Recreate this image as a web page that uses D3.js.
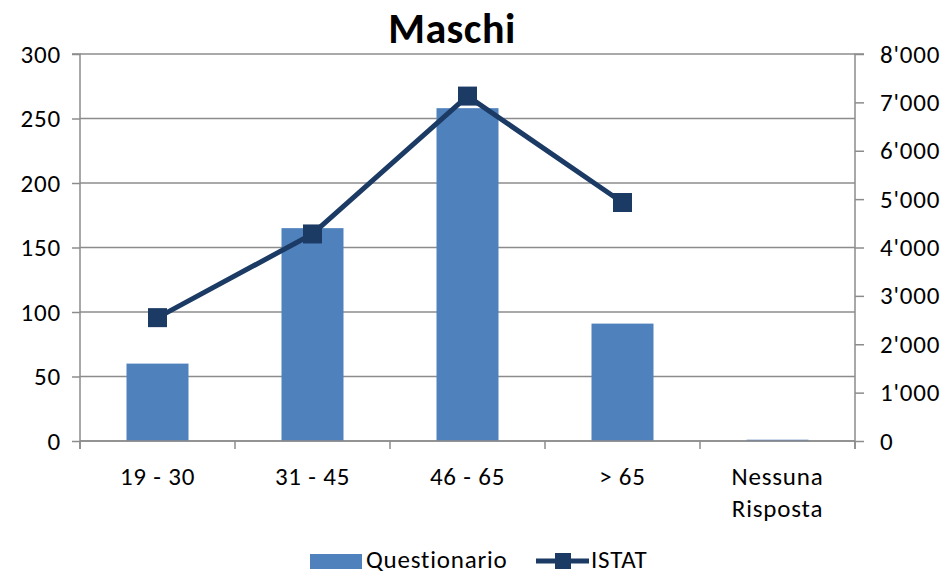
<!DOCTYPE html>
<html>
<head>
<meta charset="utf-8">
<script src="https://cdn.jsdelivr.net/npm/d3@7"></script>
<style>
  body { margin: 0; background: #fff; }
  text { font-family: Carlito, "Open Sans", sans-serif; fill: #000; letter-spacing: 0.8px; }
</style>
</head>
<body>
<svg id="chart" width="943" height="574"></svg>
<script>
// data
const categories = ["19 - 30", "31 - 45", "46 - 65", "> 65", "Nessuna Risposta"];
const questionario = [60, 165, 258, 91, 1];
const istat = [2550, 4280, 7130, 4930, null];
const leftTicks = [0, 50, 100, 150, 200, 250, 300];
const rightTicks = [0, 1000, 2000, 3000, 4000, 5000, 6000, 7000, 8000];

const barColor = "#4F81BD";
const lineColor = "#1B3A64";
const gridColor = "#8C8C8C";
const fs = "25px";

const svg = d3.select("#chart");
const margin = { left: 80, right: 88, top: 54, bottom: 133 };
const W = 943, H = 574;
const x0 = margin.left, x1 = W - margin.right;
const y0 = H - margin.bottom, y1 = margin.top;

const xBand = d3.scaleBand().domain(categories).range([x0, x1]);
const yL = d3.scaleLinear().domain([0, 300]).range([y0, y1]);
const yR = d3.scaleLinear().domain([0, 8000]).range([y0, y1]);

// gridlines
svg.append("g").selectAll("line").data(leftTicks).enter().append("line")
  .attr("x1", x0).attr("x2", x1)
  .attr("y1", d => yL(d)).attr("y2", d => yL(d))
  .attr("stroke", gridColor).attr("stroke-width", 1.5);

// bars
svg.append("g").selectAll("rect").data(questionario).enter().append("rect")
  .attr("x", (d, i) => xBand(categories[i]) + xBand.bandwidth() / 2 - 31)
  .attr("width", 62)
  .attr("y", d => yL(d))
  .attr("height", d => y0 - yL(d))
  .attr("fill", barColor);

// left axis
const left = svg.append("g").attr("transform", `translate(${x0},0)`)
  .call(d3.axisLeft(yL).tickValues(leftTicks).tickSize(8).tickPadding(11));
// right axis
const right = svg.append("g").attr("transform", `translate(${x1},0)`)
  .call(d3.axisRight(yR).tickValues(rightTicks).tickSize(9).tickPadding(16)
    .tickFormat(d => d3.format(",")(d).replace(/,/g, "'")));
[left, right].forEach(g => {
  g.select(".domain").attr("stroke", gridColor).attr("stroke-width", 1.5);
  g.selectAll(".tick line").attr("stroke", gridColor).attr("stroke-width", 1.5);
  g.selectAll(".tick text").style("font-size", fs).attr("fill", "#000");
});
left.select(".domain").attr("d", `M-8,${y1}H0V${y0 + 8}`);
right.select(".domain").attr("d", `M9,${y1}H0V${y0 + 8}`);

// x axis
const xAxis = svg.append("g").attr("transform", `translate(0,${y0})`);
xAxis.append("line").attr("x1", x0).attr("x2", x1).attr("y1", 0).attr("y2", 0)
  .attr("stroke", gridColor).attr("stroke-width", 1.5);
xAxis.selectAll(".xt").data(d3.range(categories.length + 1)).enter().append("line")
  .attr("x1", i => x0 + i * xBand.bandwidth()).attr("x2", i => x0 + i * xBand.bandwidth())
  .attr("y1", 0).attr("y2", 8).attr("stroke", gridColor).attr("stroke-width", 1.5);
categories.forEach(c => {
  const words = c === "Nessuna Risposta" ? ["Nessuna", "Risposta"] : [c];
  const t = xAxis.append("text").attr("text-anchor", "middle").style("font-size", fs)
    .attr("x", xBand(c) + xBand.bandwidth() / 2).attr("y", 44);
  words.forEach((w, k) => t.append("tspan").attr("x", xBand(c) + xBand.bandwidth() / 2)
    .attr("dy", k === 0 ? 0 : 32).text(w));
});

// line
const pts = istat.map((v, i) => ({ c: categories[i], v })).filter(d => d.v != null);
const cx = d => xBand(d.c) + xBand.bandwidth() / 2;
svg.append("path").datum(pts)
  .attr("d", d3.line().x(cx).y(d => yR(d.v)))
  .attr("fill", "none").attr("stroke", lineColor).attr("stroke-width", 5)
  .attr("stroke-linejoin", "round");
svg.append("g").selectAll("rect").data(pts).enter().append("rect")
  .attr("x", d => cx(d) - 9.5).attr("y", d => yR(d.v) - 9.5)
  .attr("width", 19).attr("height", 19).attr("fill", lineColor);

// title
svg.append("text").attr("x", 452).attr("y", 43).attr("text-anchor", "middle")
  .style("font-size", "42px").style("font-weight", "bold").style("letter-spacing", "0.5px").text("Maschi");

// legend
const lg = svg.append("g");
lg.append("rect").attr("x", 310).attr("y", 554).attr("width", 52).attr("height", 15).attr("fill", barColor);
lg.append("text").attr("x", 366).attr("y", 568).style("font-size", fs).text("Questionario");
lg.append("line").attr("x1", 536).attr("x2", 589).attr("y1", 561).attr("y2", 561)
  .attr("stroke", lineColor).attr("stroke-width", 5);
lg.append("rect").attr("x", 555).attr("y", 553).attr("width", 16).attr("height", 16).attr("fill", lineColor);
lg.append("text").attr("x", 591).attr("y", 568).style("font-size", fs).text("ISTAT");
</script>
</body>
</html>
